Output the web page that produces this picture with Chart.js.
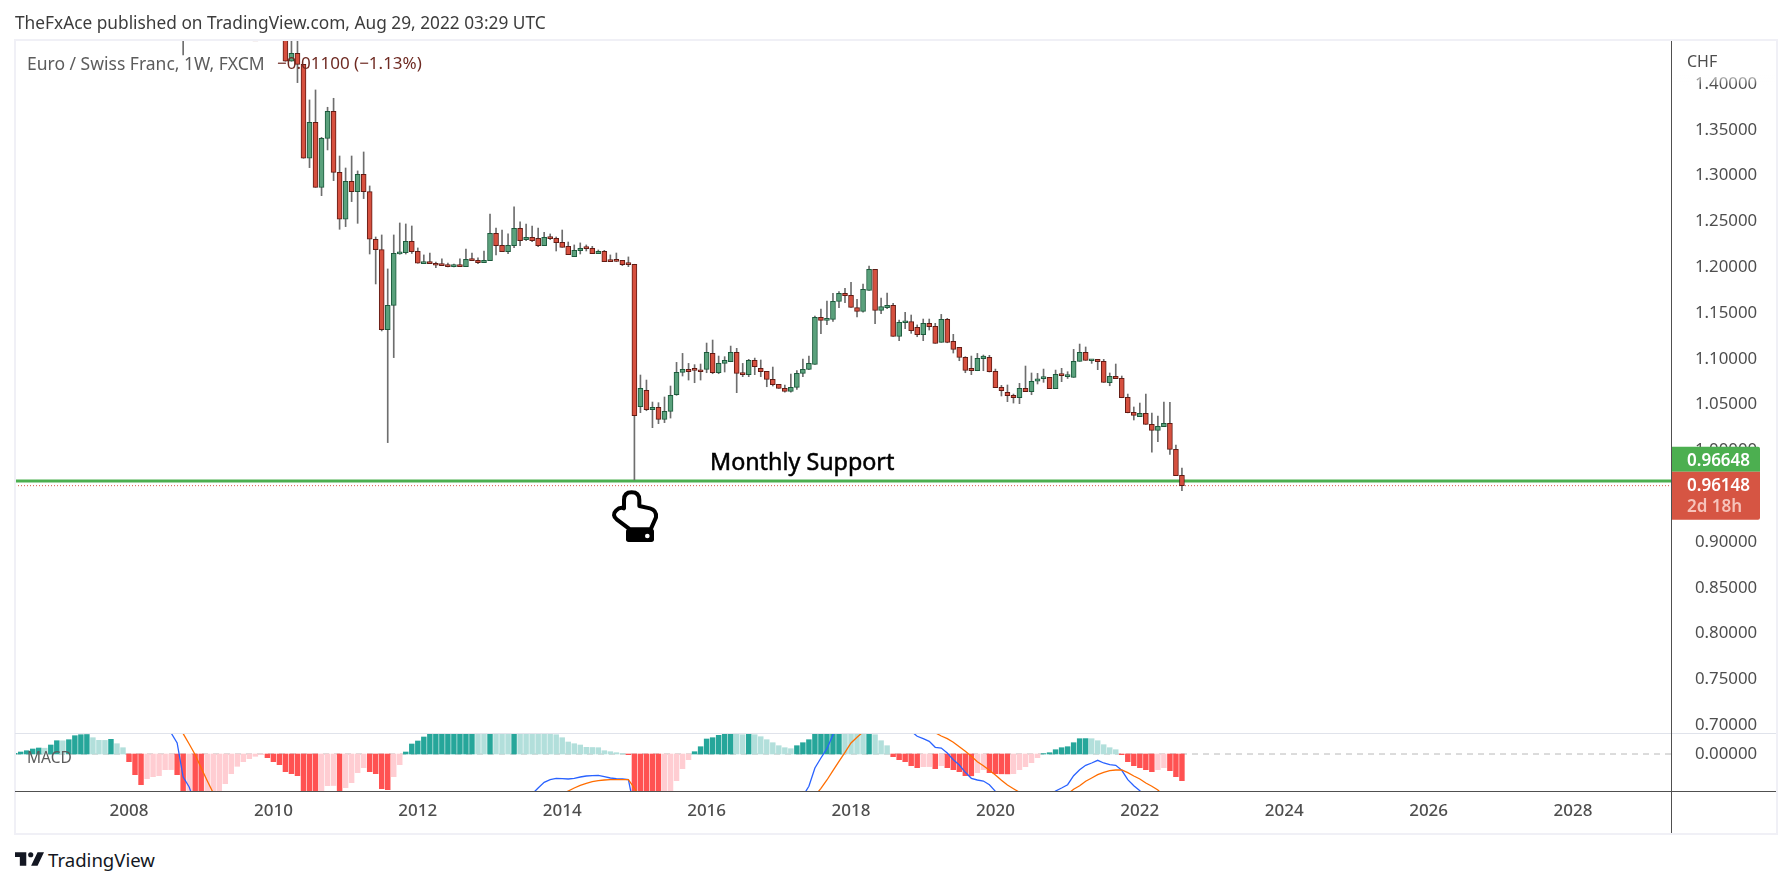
<!DOCTYPE html>
<html lang="en">
<head>
<meta charset="UTF-8">
<title>Euro / Swiss Franc</title>
<style>
  html, body { margin: 0; padding: 0; background: #fff; }
  body { width: 1791px; height: 886px; position: relative; overflow: hidden; font-family: "Noto Sans", sans-serif; color: #4e4e4e; }
  canvas { position: absolute; left: 0; }
  #priceChart { top: 0; }
  #macdChart { top: 733px; }
  .txt { position: absolute; white-space: pre; line-height: 20px; }
  .rule { position: absolute; }
</style>
</head>
<body>
  <canvas id="priceChart" width="1791" height="733"></canvas>
  <canvas id="macdChart" width="1791" height="100"></canvas>

  <!-- frame and pane rules -->
  <div class="rule" style="left:14px;top:39px;width:1760px;height:792px;border:2px solid #f0f0f6"></div>
  <div class="rule" style="left:15px;top:733px;width:1761px;height:1px;background:#e0e3eb"></div>
  <div class="rule" style="left:15px;top:791px;width:1761px;height:1px;background:#505050"></div>
  <div class="rule" style="left:1671px;top:41px;width:1px;height:792px;background:#505050"></div>
  <div class="rule" style="left:1672px;top:41px;width:103px;height:44px;background:linear-gradient(#fff 70%,rgba(255,255,255,0))"></div>

  <div class="txt" style="left:15px;top:13px;font-size:17.3px;color:#3c3c3c">TheFxAce published on TradingView.com, Aug 29, 2022 03:29 UTC</div>
  <div class="txt" style="left:27px;top:53px;font-size:17.5px;color:#5c5c5c">Euro / Swiss Franc, 1W, FXCM</div>
  <div class="txt" style="left:277px;top:53px;font-size:17px;color:#6e2a22">−0.01100 (−1.13%)</div>
  <div class="txt" style="left:1687px;top:51px;font-size:16px;color:#4e4e4e">CHF</div>
  <div class="txt" style="left:27px;top:747px;font-size:15.5px;color:#5c5c5c">MACD</div>
  <div class="txt" style="left:710px;top:449px;font-size:23.3px;line-height:24px;color:#000;-webkit-text-stroke:0.5px #000">Monthly Support</div>

  <!-- pointing hand drawing -->
  <svg style="position:absolute;left:600px;top:440px" width="100" height="110" viewBox="0 0 300 330">
    <path d="M72 205 L72 180 Q72 157 95 157 Q118 157 118 180 L118 198 L150 205 Q170 210 168 232 L152 268 L90 268 L50 238 Q35 225 48 212 Q60 200 72 205 Z" fill="#fff" stroke="#000" stroke-width="12" stroke-linejoin="round"/>
    <rect x="78" y="266" width="84" height="40" rx="8" fill="#000"/>
    <circle cx="142" cy="288" r="7" fill="#fff"/>
  </svg>

  <!-- TradingView mark -->
  <svg style="position:absolute;left:15px;top:852px" width="29" height="14" viewBox="0 0 36 17">
    <path d="M14 0H0v6h6v11h8V0zm14 17h-8L28 0h8l-8 17z" fill="#131722"/>
    <circle cx="19.5" cy="3.2" r="3.2" fill="#131722"/>
  </svg>
  <div class="txt" style="left:48px;top:850px;font-size:18.6px;color:#131722">TradingView</div>

  <script src="https://cdn.jsdelivr.net/npm/chart.js"></script>
  <script>
    // Monthly candles, first one is Oct 2008 (everything before it sits above the visible range)
    const candleStart = 2008 + 9 / 12;
    const opens = [
      1.6010,1.5200,1.4950,
      1.4900,1.4840,1.4790,1.5380,1.5120,1.5090,1.5240,1.5270,1.5190,1.5160,1.5140,1.5110,
      1.4840,1.4680,1.4640,1.4248,1.4335,1.4215,1.3189,1.3582,1.2872,1.3407,1.3702,1.3036,
      1.2523,1.2938,1.2825,1.3014,1.2825,1.2305,1.2192,1.1318,1.1584,1.2145,1.2159,1.2283,
      1.2174,1.2039,1.2057,1.2043,1.2022,1.2024,1.2006,1.2024,1.2006,1.2090,1.2075,1.2050,
      1.2072,1.2370,1.2239,1.2170,1.2235,1.2425,1.2301,1.2326,1.2315,1.2235,1.2326,1.2315,
      1.2272,1.2228,1.2115,1.2181,1.2208,1.2206,1.2148,1.2174,1.2075,1.2066,1.2075,1.2043,
      1.2032,1.0477,1.0655,1.0444,1.0470,1.0339,1.0426,1.0608,1.0852,1.0885,1.0877,1.0873,
      1.0885,1.1059,1.0848,1.0950,1.0968,1.1070,1.0841,1.0827,1.0983,1.0896,1.0863,1.0776,
      1.0721,1.0677,1.0645,1.0688,1.0841,1.0885,1.0939,1.1452,1.1420,1.1431,1.1627,1.1714,
      1.1693,1.1558,1.1518,1.1747,1.1976,1.1529,1.1558,1.1583,1.1245,1.1394,1.1405,1.1343,
      1.1263,1.1387,1.1354,1.1180,1.1431,1.1190,1.1125,1.1016,1.0896,1.0870,1.1002,1.1016,
      1.0863,1.0688,1.0634,1.0601,1.0575,1.0677,1.0641,1.0757,1.0783,1.0798,1.0674,1.0830,
      1.0805,1.0797,1.0972,1.1070,1.0979,1.0994,1.0972,1.0739,1.0808,1.0787,1.0579,1.0415,
      1.0368,1.0404,1.0284,1.0219,1.0259,1.0295,1.0011,0.9728
    ];
    const highs = [
      1.6120,1.5410,1.5350,
      1.5120,1.5020,1.5480,1.5420,1.5180,1.5260,1.5360,1.5340,1.5290,1.5200,1.5190,1.5130,
      1.4900,1.4720,1.4700,1.4490,1.4500,1.4215,1.3826,1.3935,1.3418,1.3746,1.3844,1.3214,
      1.3083,1.3214,1.3051,1.3258,1.2887,1.2330,1.2352,1.1981,1.2352,1.2483,1.2472,1.2450,
      1.2210,1.2134,1.2155,1.2057,1.2090,1.2046,1.2034,1.2090,1.2199,1.2155,1.2101,1.2177,
      1.2581,1.2428,1.2406,1.2363,1.2658,1.2494,1.2472,1.2450,1.2428,1.2381,1.2363,1.2330,
      1.2406,1.2275,1.2243,1.2265,1.2243,1.2228,1.2188,1.2184,1.2134,1.2155,1.2075,1.2112,
      1.2032,1.0823,1.0768,1.0528,1.0521,1.0583,1.0703,1.0961,1.1059,1.0950,1.0936,1.0943,
      1.1172,1.1205,1.1030,1.1023,1.1139,1.1114,1.0950,1.0994,1.1008,1.0987,1.0863,1.0910,
      1.0721,1.0714,1.0834,1.0870,1.0998,1.1030,1.1467,1.1543,1.1631,1.1714,1.1733,1.1769,
      1.1835,1.1649,1.1816,1.2013,1.1976,1.1663,1.1718,1.1605,1.1423,1.1507,1.1478,1.1370,
      1.1434,1.1434,1.1387,1.1485,1.1442,1.1267,1.1125,1.1023,1.1030,1.1059,1.1041,1.1038,
      1.0888,1.0710,1.0714,1.0615,1.0732,1.0921,1.0845,1.0841,1.0888,1.0798,1.0877,1.0896,
      1.0859,1.1103,1.1161,1.1129,1.0994,1.0994,1.0994,1.0845,1.0943,1.0812,1.0615,1.0474,
      1.0517,1.0615,1.0408,1.0375,1.0528,1.0524,1.0059,0.9808
    ];
    const lows = [
      1.4317,1.4760,1.4620,
      1.4650,1.4600,1.4720,1.5020,1.5000,1.5040,1.5120,1.5150,1.5100,1.5100,1.5050,1.4800,
      1.4620,1.4500,1.4248,1.4248,1.4015,1.3189,1.3087,1.2872,1.2781,1.3280,1.2945,1.2414,
      1.2443,1.2716,1.2479,1.2749,1.2144,1.1817,1.1304,1.0085,1.1013,1.2141,1.2144,1.2150,
      1.2043,1.2039,1.2039,1.1995,1.2016,1.2003,1.2003,1.2006,1.2006,1.2072,1.2039,1.2050,
      1.2072,1.2134,1.2170,1.2148,1.2214,1.2235,1.2290,1.2279,1.2225,1.2235,1.2301,1.2177,
      1.2217,1.2137,1.2115,1.2144,1.2177,1.2148,1.2148,1.2061,1.2061,1.2061,1.2017,1.2006,
      0.9677,1.0412,1.0433,1.0248,1.0292,1.0303,1.0353,1.0601,1.0812,1.0768,1.0739,1.0768,
      1.0848,1.0837,1.0837,1.0856,1.0968,1.0630,1.0805,1.0805,1.0827,1.0805,1.0695,1.0703,
      1.0677,1.0637,1.0637,1.0666,1.0805,1.0880,1.0939,1.1274,1.1372,1.1409,1.1558,1.1613,
      1.1562,1.1456,1.1510,1.1747,1.1383,1.1492,1.1547,1.1245,1.1198,1.1329,1.1278,1.1241,
      1.1198,1.1314,1.1169,1.1180,1.1175,1.1063,1.0979,1.0848,1.0827,1.0870,1.0870,1.0856,
      1.0685,1.0594,1.0532,1.0517,1.0510,1.0641,1.0608,1.0725,1.0743,1.0674,1.0674,1.0750,
      1.0785,1.0797,1.0972,1.0983,1.0950,1.0881,1.0743,1.0706,1.0783,1.0575,1.0410,1.0332,
      1.0368,1.0284,0.9982,1.0095,1.0259,0.9957,0.9724,0.9560
    ];
    const closes = [
      1.5200,1.4950,1.4900,
      1.4840,1.4790,1.5380,1.5120,1.5090,1.5240,1.5270,1.5190,1.5160,1.5140,1.5110,1.4840,
      1.4680,1.4640,1.4248,1.4335,1.4215,1.3189,1.3582,1.2872,1.3407,1.3702,1.3036,1.2523,
      1.2938,1.2825,1.3014,1.2825,1.2305,1.2192,1.1318,1.1584,1.2152,1.2166,1.2283,1.2170,
      1.2043,1.2057,1.2039,1.2021,1.2018,1.2006,1.2024,1.2006,1.2086,1.2072,1.2050,1.2075,
      1.2370,1.2235,1.2170,1.2239,1.2425,1.2290,1.2326,1.2290,1.2235,1.2326,1.2312,1.2268,
      1.2217,1.2137,1.2184,1.2206,1.2203,1.2148,1.2174,1.2061,1.2061,1.2064,1.2028,1.2028,
      1.0380,1.0677,1.0444,1.0470,1.0339,1.0426,1.0601,1.0852,1.0885,1.0859,1.0873,1.0859,
      1.1070,1.0848,1.0950,1.0983,1.1070,1.0841,1.0827,1.0983,1.0914,1.0859,1.0776,1.0717,
      1.0677,1.0645,1.0688,1.0841,1.0885,1.0950,1.1452,1.1420,1.1441,1.1627,1.1714,1.1689,
      1.1562,1.1518,1.1758,1.1976,1.1529,1.1569,1.1583,1.1245,1.1398,1.1409,1.1307,1.1263,
      1.1387,1.1351,1.1169,1.1431,1.1180,1.1103,1.1016,1.0874,1.0870,1.1005,1.1030,1.0859,
      1.0685,1.0652,1.0597,1.0575,1.0677,1.0641,1.0754,1.0781,1.0798,1.0674,1.0830,1.0816,
      1.0819,1.0972,1.1070,1.0983,1.0994,1.0968,1.0743,1.0808,1.0783,1.0575,1.0412,1.0383,
      1.0404,1.0284,1.0219,1.0262,1.0295,1.0011,0.9724,0.96148
    ];

    const priceTicks = [0.70,0.75,0.80,0.85,0.90,0.95,1.00,1.05,1.10,1.15,1.20,1.25,1.30,1.35,1.40];
    const yearTicks = [2008,2010,2012,2014,2016,2018,2020,2022,2024,2026,2028];
    const supportLevel = 0.96648;
    const lastPrice = 0.96148;

    // MACD histogram in pips, first bar is Jun 2006; bars past the pane edges are estimates
    const histStart = 2006 + 5 / 12;
    const macdHist = [
      0.7,2,3.3,5,6,5.8,9,
      13.3,13.2,14.3,18.3,19.3,19.5,16.3,13.7,13.6,14.7,10.3,6.3,
      -7.7,-20.7,-30.7,-24.7,-22.7,-21.7,-15.7,-15.6,-20.7,-40,-38,-42,
      -45,-42,-40,-38,-29.7,-19.7,-12.3,-7.7,-4.7,-2.3,-0.7,-3.7,
      -7.7,-10.7,-17.7,-19.7,-21.7,-38,-42,-46,-40,-31.7,-31.5,-38,
      -33.7,-28.7,-18.7,-13.7,-17.7,-19.7,-34.7,-35.7,-22.7,-10.7,2,10,
      13,17,22,23,24,25,26,27,28,29,28,27,
      28,27,26,25,26,25,24.5,24,23.5,23,22,19.3,
      16.3,12,10.3,9,6.7,6.5,6.3,3.3,2.3,1.3,0.5,-0.7,
      -40,-42,-44,-46,-48,-46,-42,-26.7,-14.7,-5.7,2.3,7.3,
      15,16.3,18.7,20.3,20.5,20.4,19.3,20.3,19.3,17.3,14.3,11.3,
      8.3,6.3,5.3,8.3,11.3,14.3,22,23,24,25,26,25,
      24.5,24,23,25,19.3,13.3,8.3,-2.7,-5.7,-7.7,-11.7,-13.7,
      -12.7,-12.6,-14.7,-11.7,-13.7,-15.7,-17.7,-21.7,-21.8,-18.7,-15.7,-18.7,
      -19.7,-19.8,-19.9,-19.7,-15.7,-12.7,-8.7,-3.7,0.4,1.3,4.3,6.3,
      7.3,11.3,15.3,15.4,15.3,13.3,9.3,6.3,4.3,-0.7,-7.7,-11.7,
      -13.7,-15.7,-17.7,-15.7,-13.7,-16.7,-22.7,-26.7
    ];

    // MACD and signal are only inside the pane for a few stretches, so keep those stretches
    const macd2008 = [30,21,11,-23,-33,-50];                          // from Jul 2008
    const macd2013 = [-40,-34,-28.3,-25.7,-24.3,-24.7,-25,-24.3,-23,-22,-21.7,-21.3,-22.7,-24,-24.7,-25,-25.7,-55]; // from Aug 2013
    const macd2017 = [-42,-32.3,-14,-4,5.3,19.3,35];                  // from May 2017
    const macd2018 = [30,22.7,17.7,15.3,12.7,6.7,6,1,-5.7,-11,-18.3,-24.3,-26,-27,-30.7,-37.3,-45]; // from Oct 2018
    const macd2021 = [-42,-37,-34,-30.7,-21.7,-15.7,-11.3,-9,-6.3,-9,-10.7,-11.3,-16.3,-25.7,-31.7,-36.7,-45]; // from Oct 2020
    const signal2008 = [35,20.3,10,-0.7,-14,-26.7,-39];               // from Sep 2008
    const signal2014 = [-40,-37,-34,-31.3,-29.3,-27.7,-26.7,-26,-25.7,-25.6,-25.6,-25.6,-34,-44]; // from Jan 2014
    const signal2017 = [-45,-42,-34.3,-26,-16.7,-7.3,1.7,11,16.7,22,30]; // from Jun 2017
    const signal2019 = [30,21.3,18,15.3,11.7,7.3,2.7,-2.3,-7.7,-11.7,-16.3,-21,-26.3,-31,-34.7,-38.3,-45]; // from Feb 2019
    const signal2021 = [-40,-35.3,-31.7,-27.3,-24,-20.7,-18.3,-16.7,-16,-16,-18.7,-22,-25,-29,-32.3,-36,-42]; // from Jan 2021

    const xMin = 2006.421, xMax = 2029.357;
    const fontFamily = '"Noto Sans", sans-serif';
    const labelColor = '#4e4e4e';

    function monthX(start, i) { return start + i / 12; }

    // join stretches into one series, a null point breaks the line between them
    function stretches(parts) {
      const pts = [];
      parts.forEach(([start, values]) => {
        values.forEach((v, i) => pts.push({ x: monthX(start, i), y: v }));
        pts.push({ x: monthX(start, values.length), y: null });
      });
      return pts;
    }

    function flatLine(level) {
      return [{ x: xMin, y: level }, { x: xMax, y: level }];
    }

    // tick padding otherwise eats into the plot height, the panes have fixed heights here
    function fixAxisWidth(scale) {
      scale.width = 105;
      scale.paddingTop = 0;
      scale.paddingBottom = 0;
    }

    const up = opens.map((o, i) => closes[i] >= o);

    // green and red tags on the price axis
    const priceTags = {
      id: 'priceTags',
      afterDraw(chart) {
        const { ctx, chartArea, scales } = chart;
        const left = chartArea.right, w = 89;
        const yLast = scales.y.getPixelForValue(lastPrice);
        const yTop = yLast - 39, yMid = yLast - 14, yBot = yLast + 34;
        ctx.save();
        ctx.fillStyle = '#4caf50';
        ctx.beginPath(); ctx.roundRect(left, yTop, w, yMid - yTop, [0, 2, 0, 0]); ctx.fill();
        ctx.fillStyle = '#d65543';
        ctx.beginPath(); ctx.roundRect(left, yMid, w, yBot - yMid, [0, 0, 2, 0]); ctx.fill();
        ctx.font = '600 17px ' + fontFamily;
        ctx.textBaseline = 'middle';
        ctx.fillStyle = '#fff';
        ctx.fillText(supportLevel.toFixed(5), left + 16, yTop + 14);
        ctx.fillText(lastPrice.toFixed(5), left + 16, yMid + 14);
        ctx.fillStyle = '#f6c3bb';
        ctx.fillText('2d 18h', left + 16, yMid + 35);
        ctx.restore();
      }
    };

    new Chart(document.getElementById('priceChart'), {
      type: 'bar',
      data: {
        datasets: [
          {
            type: 'line', data: flatLine(supportLevel), borderColor: '#4caf50', borderWidth: 3,
            pointRadius: 0, order: 4
          },
          {
            type: 'line', data: flatLine(lastPrice), borderColor: '#d65543', borderWidth: 1,
            borderDash: [1, 2], pointRadius: 0, order: 3
          },
          {
            data: highs.map((h, i) => ({ x: monthX(candleStart, i), y: [lows[i], h] })),
            backgroundColor: '#6e6e6e', barThickness: 1, grouped: false, order: 2
          },
          {
            data: opens.map((o, i) => ({ x: monthX(candleStart, i), y: [o, closes[i]] })),
            backgroundColor: up.map(u => u ? '#5aa17c' : '#d6503f'),
            borderColor: up.map(u => u ? '#1c5a3c' : '#611b14'),
            borderWidth: 1, borderSkipped: false, barThickness: 5, minBarLength: 2,
            grouped: false, order: 1
          }
        ]
      },
      options: {
        responsive: false,
        animation: false,
        layout: { padding: { left: 15, right: 15, top: 41, bottom: 0 } },
        plugins: { legend: { display: false }, tooltip: { enabled: false } },
        scales: {
          x: { type: 'linear', display: false, offset: false, min: xMin, max: xMax, grid: { display: false } },
          y: {
            position: 'right', min: 0.69148, max: 1.44694, beginAtZero: false,
            grid: { display: false }, border: { display: false },
            afterFit: fixAxisWidth,
            afterBuildTicks(scale) { scale.ticks = priceTicks.map(v => ({ value: v })); },
            ticks: {
              autoSkip: false, padding: 16, color: labelColor,
              font: { family: fontFamily, size: 16.8 },
              callback: v => v.toFixed(5)
            }
          }
        }
      },
      plugins: [priceTags]
    });

    // Histogram shades follow the usual rule: strong while it moves away from zero
    const histColors = macdHist.map((v, i) => {
      const rising = i === 0 || v > macdHist[i - 1];
      if (v >= 0) return rising ? '#26a69a' : '#b2dfdb';
      return rising ? '#ffcdd2' : '#ff5252';
    });

    new Chart(document.getElementById('macdChart'), {
      type: 'bar',
      data: {
        datasets: [
          {
            type: 'line', data: stretches([[2008 + 6 / 12, macd2008], [2013 + 7 / 12, macd2013], [2017 + 4 / 12, macd2017], [2018 + 9 / 12, macd2018], [2020 + 9 / 12, macd2021]]),
            borderColor: '#2962ff', borderWidth: 1.3, pointRadius: 0, spanGaps: false, order: 1
          },
          {
            type: 'line', data: stretches([[2008 + 8 / 12, signal2008], [2014, signal2014], [2017 + 5 / 12, signal2017], [2019 + 1 / 12, signal2019], [2021, signal2021]]),
            borderColor: '#ff6d00', borderWidth: 1.3, pointRadius: 0, spanGaps: false, order: 0
          },
          {
            data: macdHist.map((v, i) => ({ x: monthX(histStart, i), y: v })),
            backgroundColor: histColors, barThickness: 4.8, grouped: false, order: 2
          },
          {
            type: 'line', data: flatLine(0), borderColor: '#b8b8b8', borderWidth: 1,
            borderDash: [6, 5], pointRadius: 0, order: 3
          }
        ]
      },
      options: {
        responsive: false,
        animation: false,
        layout: { padding: { left: 15, right: 15, top: 0, bottom: 0 } },
        plugins: { legend: { display: false }, tooltip: { enabled: false } },
        scales: {
          x: {
            type: 'linear', offset: false, min: xMin, max: xMax,
            grid: { display: false, drawTicks: false }, border: { display: false },
            afterFit(scale) { scale.height = 42; },
            afterBuildTicks(scale) { scale.ticks = yearTicks.map(v => ({ value: v })); },
            ticks: {
              autoSkip: false, maxRotation: 0, padding: 10, color: labelColor,
              font: { family: fontFamily, size: 17, weight: '500' },
              callback: v => String(v)
            }
          },
          y: {
            position: 'right', min: -37, max: 21, beginAtZero: false,
            grid: { display: false }, border: { display: false },
            afterFit: fixAxisWidth,
            afterBuildTicks(scale) { scale.ticks = [{ value: 0 }]; },
            ticks: {
              autoSkip: false, padding: 16, color: labelColor,
              font: { family: fontFamily, size: 16.8 },
              callback: v => v.toFixed(5)
            }
          }
        }
      }
    });
  </script>
</body>
</html>
